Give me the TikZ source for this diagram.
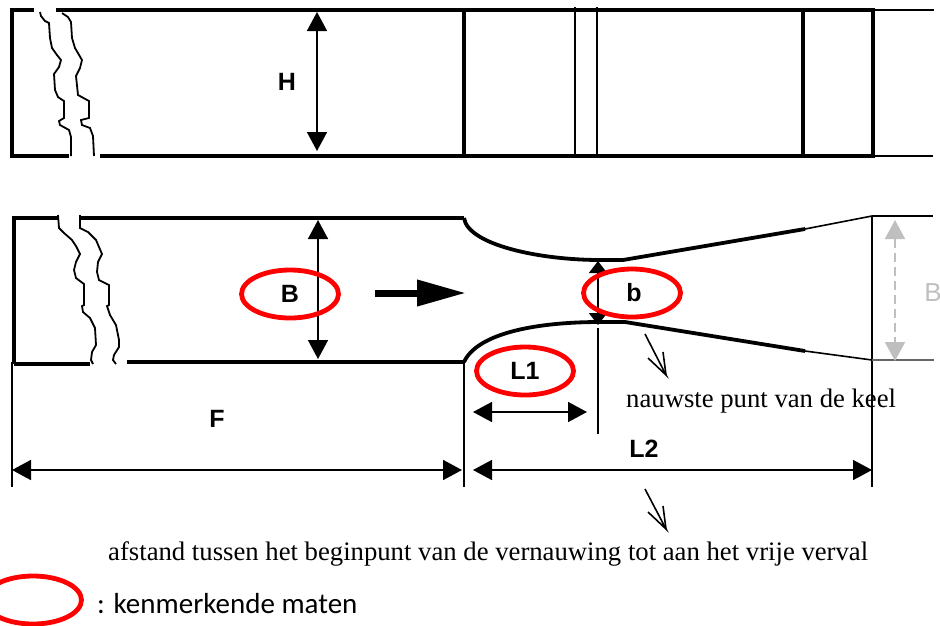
\documentclass[tikz,border=0pt]{standalone}
\usepackage{fontspec}
\setmainfont{Liberation Serif}
\setsansfont{Liberation Sans}
\newfontfamily\legendfont{Carlito}
\usetikzlibrary{arrows.meta,shapes.geometric}
\tikzset{
  wall/.style={line width=3.8pt},
  crack/.style={line width=1.8pt},
  thinline/.style={line width=1.6pt},
  dimline/.style={line width=1.6pt, {Triangle[length=19pt,width=20pt]}-{Triangle[length=19pt,width=20pt]}},
  shortdim/.style={line width=1.6pt, {Triangle[length=12pt,width=18pt]}-{Triangle[length=12pt,width=18pt]}},
  greydim/.style={line width=1.8pt, draw=black!25, dash pattern=on 9pt off 5pt, {Triangle[length=19pt,width=20pt]}-{Triangle[length=19pt,width=20pt]}},
  maat/.style={font=\sffamily\bfseries\fontsize{25}{25}\selectfont, inner sep=0},
  kenmerk/.style={ellipse, draw=red, line width=4.8pt, minimum width=97pt, minimum height=48pt, inner sep=0, font=\sffamily\bfseries\fontsize{25}{25}\selectfont},
  noot/.style={font=\fontsize{26.7}{26.7}\selectfont, inner sep=0, anchor=west},
}
\begin{document}
\begin{tikzpicture}[x=1pt,y=-1pt]
\clip (0,0) rectangle (940,625);
% top view
\draw[wall] (34,10) -- (12,10) -- (12,156) -- (69,156);
\draw[wall] (56,10) -- (873,10) -- (873,156) -- (100,156);
\draw[wall] (464,10) -- (464,156);
\draw[wall, line width=4.5pt] (803,10) -- (803,156);
\draw[thinline, line width=2pt] (575,7) -- (575,156);
\draw[thinline, line width=2pt] (597,7) -- (597,156);
\draw[thinline, line width=1.2pt] (875,10) -- (934,10);
\draw[thinline, line width=1.2pt] (875,156) -- (933,156);
\draw[crack] (40,12) -- (41,16) -- (45,21) -- (49,23) -- (50,38) -- (52,48) -- (57,55) -- (61,60) -- (59,67) -- (54,74) -- (55,90) -- (58,97) -- (64,101) -- (64,118) -- (59,121) -- (60,125) -- (69,130) -- (71,137) -- (71,156);
\draw[crack] (62,13) -- (68,17) -- (71,22) -- (72,38) -- (75,48) -- (82,60) -- (80,68) -- (76,76) -- (78,95) -- (89,101) -- (89,118) -- (81,120) -- (82,125) -- (90,128) -- (93,136) -- (94,156);
\coordinate (htop) at (317,12);
\coordinate (hbot) at (317,151);
\draw[dimline] (htop) -- (hbot);
\node[maat] (hlabel) at (287,82) {H};
% plan view
\draw[wall] (58,218) -- (14,218) -- (14,364);
\draw[wall] (14,364) -- (90,364);
\draw[wall] (80,218) -- (464,218);
\draw[wall] (127,362) -- (464,362);
\draw[wall] (464,218) .. controls (468,245) and (540,260) .. (600,260) -- (623,260) -- (805,229);
\draw[wall] (464,362) .. controls (478,332) and (540,322) .. (600,322) -- (625,322) -- (805,351);
\draw[thinline] (805,229) -- (872,216);
\draw[thinline] (805,351) -- (872,360);
\draw[thinline] (872,216) -- (872,487);
\draw[thinline, line width=1.2pt] (872,216) -- (933,216);
\draw[thinline, line width=1.2pt, black!60] (872,360) -- (934,360);
\draw[crack] (58,215) -- (59,228) -- (64,233) -- (72,240) -- (76,246) -- (80,254) -- (76,262) -- (74,270) -- (76,278) -- (84,284) -- (84,305) -- (82,306) -- (83,312) -- (90,318) -- (95,328) -- (96,345) -- (92,352) -- (91,360) -- (93,364);
\draw[crack] (80,215) -- (80,228) -- (88,232) -- (96,240) -- (102,254) -- (98,262) -- (97,272) -- (99,280) -- (109,285) -- (109,305) -- (107,306) -- (110,315) -- (116,325) -- (119,340) -- (119,347) -- (114,355) -- (113,360) -- (116,364);
% flow direction
\coordinate (flow0) at (375,293);
\coordinate (flow1) at (466,293);
\draw[line width=7pt, -{Triangle[length=49pt,width=25pt]}] (flow0) -- (flow1);
% width B
\coordinate (btop) at (318,220);
\coordinate (bbot) at (318,359);
\draw[dimline] (btop) -- (bbot);
\node[kenmerk] (bmaat) at (290,294) {B};
% throat b
\coordinate (ktop) at (598,261);
\coordinate (kbot) at (598,325);
\draw[shortdim] (ktop) -- (kbot);
\node[kenmerk] (kmaat) at (632,293) {\hspace*{4pt}b};
\coordinate (keel0) at (598,328);
\coordinate (keel1) at (598,434);
\draw[thinline] (keel0) -- (keel1);
% grey B
\coordinate (gtop) at (895,220);
\coordinate (gbot) at (895,361);
\draw[greydim] (gtop) -- (gbot);
\node[maat, black!25, font=\sffamily\fontsize{26}{26}\selectfont] (glabel) at (933,293) {B};
% L1
\node[kenmerk] (lmaat) at (525,371) {L1};
\coordinate (l1a) at (473,412);
\coordinate (l1b) at (587,412);
\draw[dimline] (l1a) -- (l1b);
% F and L2
\draw[thinline] (12,362) -- (12,487);
\draw[thinline] (464,362) -- (464,487);
\coordinate (fa) at (12,470);
\coordinate (fb) at (462,470);
\coordinate (l2a) at (473,470);
\coordinate (l2b) at (872,470);
\draw[dimline] (fa) -- (fb);
\draw[dimline] (l2a) -- (l2b);
\node[maat] (flabel) at (217,419) {F};
\node[maat] (l2label) at (644,449) {L2};
% notes
\coordinate (pijl0) at (645,334);
\coordinate (pijl1) at (666,375);
\coordinate (pijl2) at (648,358);
\coordinate (pijl3) at (663,352);
\draw[thinline] (pijl0) -- (pijl1) -- (pijl2);
\draw[thinline] (pijl1) -- (pijl3);
\coordinate (pijl4) at (645,489);
\coordinate (pijl5) at (666,529);
\coordinate (pijl6) at (648,512);
\coordinate (pijl7) at (663,506);
\draw[thinline] (pijl4) -- (pijl5) -- (pijl6);
\draw[thinline] (pijl5) -- (pijl7);
\node[noot] (keeltext) at (626,401) {nauwste punt van de keel};
\node[noot] (afstand) at (108,554) {afstand tussen het beginpunt van de vernauwing tot aan het vrije verval};
% legend
\node[kenmerk] (legend) at (33,600) {};
\node[noot, font=\legendfont\fontsize{29}{29}\selectfont] (legendtext) at (97,604) {: kenmerkende maten};
\end{tikzpicture}
\end{document}
